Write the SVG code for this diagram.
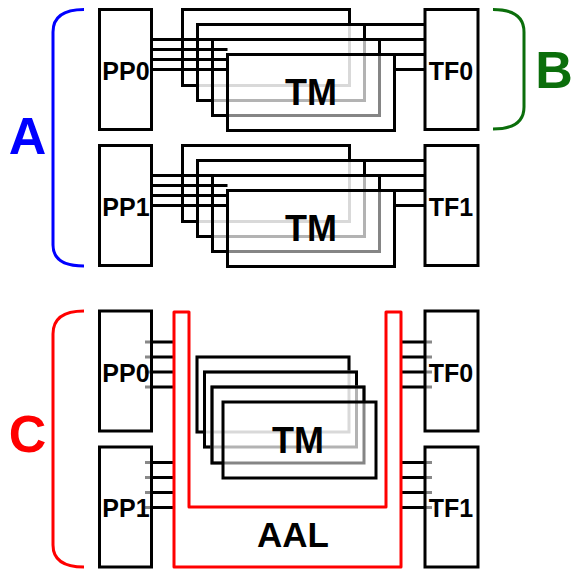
<svg xmlns="http://www.w3.org/2000/svg" width="573" height="570" viewBox="0 0 573 570">
<style>
.box{fill:#fff;stroke:#000;stroke-width:3}
.ln{fill:none;stroke:#000;stroke-width:3}
.g1{fill:none;stroke:#d9d9d9;stroke-width:3}
.g2{fill:none;stroke:#b3b3b3;stroke-width:3}
.g3{fill:none;stroke:#858585;stroke-width:3}
.stub{stroke:#888;stroke-width:3}
.lbl{font-family:"Liberation Sans",Arial,sans-serif;font-weight:bold;fill:#000;text-anchor:middle}
.big{font-family:"Liberation Sans",Arial,sans-serif;font-weight:bold;text-anchor:middle;font-size:52px}
</style>
<rect width="573" height="570" fill="#fff"/>
<g id="connectors">
  <path class="ln" d="M151.5 39.5H227.5M151.5 49.5H227.5M151.5 59.5H227.5M151.5 69.5H227.5"/>
  <path class="ln" d="M349.5 24.5H425M364.5 39.5H425M379.5 54.5H425M394.5 69.5H425"/>
  <path class="ln" d="M151.5 175.5H227.5M151.5 185.5H227.5M151.5 195.5H227.5M151.5 205.5H227.5"/>
  <path class="ln" d="M349.5 160.5H425M364.5 175.5H425M379.5 190.5H425M394.5 205.5H425"/>
  <path class="stub" d="M145 342H152M145 357H152M145 372H152M145 387H152M145 462.5H152M145 477.5H152M145 492.5H152M145 507.5H152"/>
  <path class="ln" d="M152 342H174M152 357H174M152 372H174M152 387H174M152 462.5H174M152 477.5H174M152 492.5H174M152 507.5H174"/>
  <path class="stub" d="M424 342H432M424 357H432M424 372H432M424 387H432M424 462.5H432M424 477.5H432M424 492.5H432M424 507.5H432"/>
  <path class="ln" d="M401 342H425M401 357H425M401 372H425M401 387H425M401 462.5H425M401 477.5H425M401 492.5H425M401 507.5H425"/>
</g>
<g id="PP0a"><rect class="box" x="99.5" y="9.5" width="52" height="120"/><text class="lbl" x="126" y="80" font-size="25">PP0</text></g>
<g id="TF0a"><rect class="box" x="425" y="9.5" width="53" height="120"/><text class="lbl" x="451" y="80" font-size="25">TF0</text></g>
<g id="TMa">
  <rect class="g1" x="182.5" y="9.5" width="167" height="76"/>
  <path class="ln" d="M197.5 85.5H182.5V9.5H349.5V24.5"/>
  <rect class="g2" x="197.5" y="24.5" width="167" height="76"/>
  <path class="ln" d="M212.5 100.5H197.5V24.5H364.5V39.5"/>
  <rect class="g3" x="212.5" y="39.5" width="167" height="76"/>
  <path class="ln" d="M227.5 115.5H212.5V39.5H379.5V54.5"/>
  <rect class="ln" x="227.5" y="54.5" width="167" height="76"/>
  <text class="lbl" x="311" y="105" font-size="36">TM</text>
</g>
<g id="PP1a"><rect class="box" x="99.5" y="145.5" width="52" height="120"/><text class="lbl" x="126" y="216" font-size="25">PP1</text></g>
<g id="TF1a"><rect class="box" x="425" y="145.5" width="53" height="120"/><text class="lbl" x="451" y="216" font-size="25">TF1</text></g>
<g id="TMb">
  <rect class="g1" x="182.5" y="145.5" width="167" height="76"/>
  <path class="ln" d="M197.5 221.5H182.5V145.5H349.5V160.5"/>
  <rect class="g2" x="197.5" y="160.5" width="167" height="76"/>
  <path class="ln" d="M212.5 236.5H197.5V160.5H364.5V175.5"/>
  <rect class="g3" x="212.5" y="175.5" width="167" height="76"/>
  <path class="ln" d="M227.5 251.5H212.5V175.5H379.5V190.5"/>
  <rect class="ln" x="227.5" y="190.5" width="167" height="76"/>
  <text class="lbl" x="311" y="241" font-size="36">TM</text>
</g>
<g id="PP0b"><rect class="box" x="99.5" y="311" width="52" height="120" fill-opacity="0"/><text class="lbl" x="126" y="382" font-size="25">PP0</text></g>
<g id="PP1b"><rect class="box" x="99.5" y="447" width="52" height="120" fill-opacity="0"/><text class="lbl" x="126" y="517" font-size="25">PP1</text></g>
<g id="TF0b"><rect class="box" x="425" y="311" width="53" height="120" fill-opacity="0"/><text class="lbl" x="451" y="382" font-size="25">TF0</text></g>
<g id="TF1b"><rect class="box" x="425" y="447" width="53" height="120" fill-opacity="0"/><text class="lbl" x="451" y="517" font-size="25">TF1</text></g>
<g id="AAL">
  <path d="M174 312H189V507H386V312H401V567H174Z" fill="none" stroke="#f00" stroke-width="3" stroke-linejoin="round"/>
  <text class="lbl" x="293" y="547" font-size="35">AAL</text>
</g>
<g id="TMc">
  <rect class="g1" x="197" y="357" width="152" height="75"/>
  <path class="ln" d="M204.5 432H197V357H349V372"/>
  <rect class="g2" x="204.5" y="372" width="152" height="75"/>
  <path class="ln" d="M212 447H204.5V372H356.5V387"/>
  <rect class="g3" x="212" y="387" width="152" height="76"/>
  <path class="ln" d="M223 463H212V387H364V402"/>
  <rect class="ln" x="223" y="402" width="153" height="76"/>
  <text class="lbl" x="298" y="453" font-size="36">TM</text>
</g>
<g id="bracketA">
  <path d="M84 9.5Q53 9.5 53 32V245Q53 266 84 266" fill="none" stroke="#00f" stroke-width="3"/>
  <text class="big" x="27.5" y="154" fill="#00f">A</text>
</g>
<g id="bracketB">
  <path d="M493 9.5Q524 9.5 524 32V107Q524 129 493 129" fill="none" stroke="#0b6e0b" stroke-width="3"/>
  <text class="big" x="554" y="88" fill="#0b6e0b">B</text>
</g>
<g id="bracketC">
  <path d="M84 311Q53 311 53 334V545Q53 567 84 567" fill="none" stroke="#f00" stroke-width="3"/>
  <text class="big" x="27.5" y="452" fill="#f00">C</text>
</g>
</svg>
